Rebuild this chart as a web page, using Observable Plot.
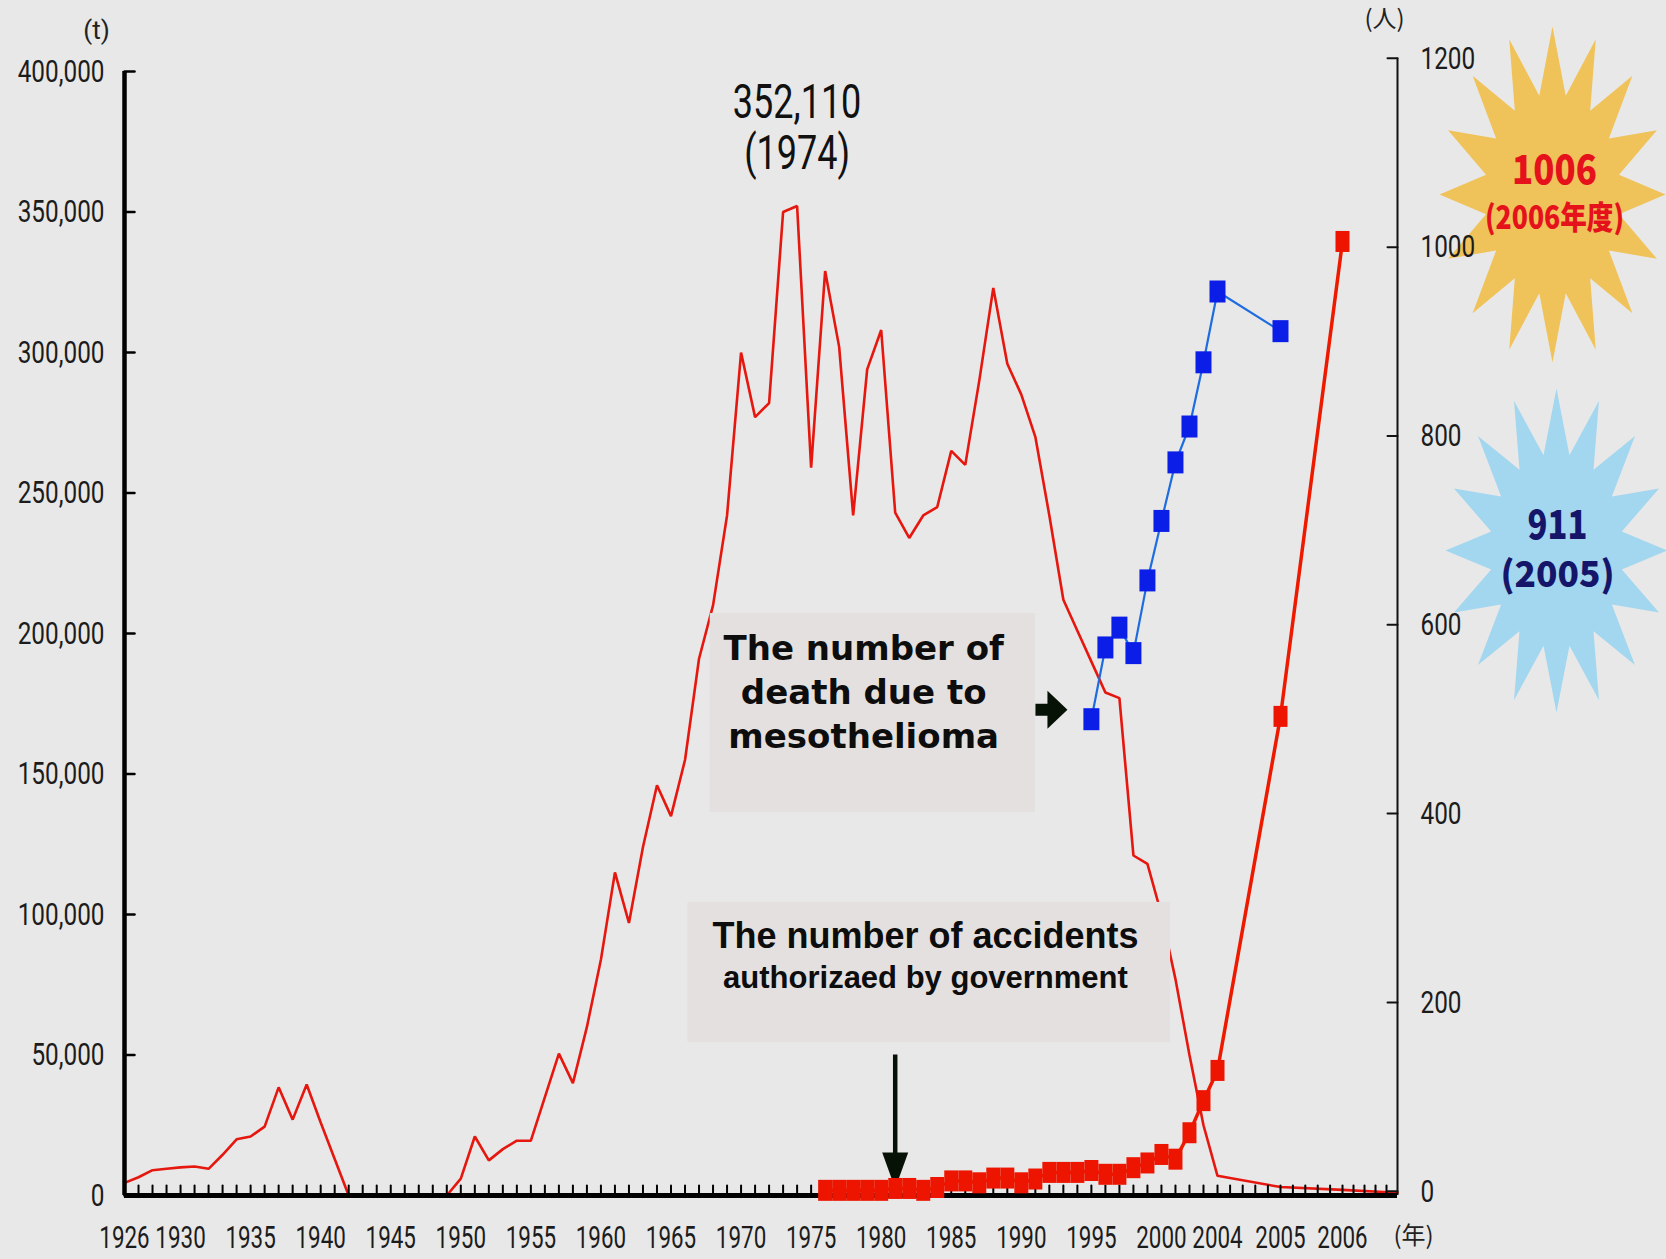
<!DOCTYPE html>
<html>
<head>
<meta charset="utf-8">
<script src="https://cdn.jsdelivr.net/npm/d3@7"></script>
<script src="https://cdn.jsdelivr.net/npm/@observablehq/plot@0.6"></script>
<style>
  html, body { margin: 0; padding: 0; background: #e8e8e8; }
  #chart svg { display: block; }
</style>
</head>
<body>
<div id="chart"></div>
<script>
// ---------------- data ----------------
const importYears = [1926,1927,1928,1929,1930,1931,1932,1933,1934,1935,1936,1937,1938,1939,1940,1941,1942,1943,1944,1945,1946,1947,1948,1949,1950,1951,1952,1953,1954,1955,1956,1957,1958,1959,1960,1961,1962,1963,1964,1965,1966,1967,1968,1969,1970,1971,1972,1973,1974,1975,1976,1977,1978,1979,1980,1981,1982,1983,1984,1985,1986,1987,1988,1989,1990,1991,1992,1993,1994,1995,1996,1997,1998,1999,2000,2001,2002,2003,2004,2005,2006,2007];
const importTonnes = [4500,6500,9000,9500,10000,10300,9500,14500,20000,21000,24500,38500,27000,39500,26000,13000,0,0,0,0,0,0,0,0,6000,21000,12500,16500,19500,19500,35000,50500,40000,60000,84000,115000,97000,124000,146000,135000,155000,191000,210000,242000,300000,277000,282000,350000,352110,259000,329000,302000,242000,294000,308000,243000,234000,242000,245000,265000,260000,290000,323000,296000,285000,270000,242000,212000,201000,190000,179000,177000,121000,118000,100000,77000,50000,25000,7000,3000,2000,1000];

const accidentYears = [1976,1977,1978,1979,1980,1981,1982,1983,1984,1985,1986,1987,1988,1989,1990,1991,1992,1993,1994,1995,1996,1997,1998,1999,2000,2001,2002,2003,2004,2005,2006];
const accidentCounts = [1,1,1,1,1,3,3,1,4,11,11,9,14,14,9,13,20,20,20,22,18,18,25,30,39,34,62,96,128,503,1006];

const deathYears = [1995,1996,1997,1998,1999,2000,2001,2002,2003,2004,2005];
const deathCounts = [500,576,597,570,647,710,772,810,878,953,911];

const xLabelYears = [1926,1930,1935,1940,1945,1950,1955,1960,1965,1970,1975,1980,1985,1990,1995,2000,2004,2005,2006];
const leftTicks = [0,50000,100000,150000,200000,250000,300000,350000,400000];
const rightTicks = [0,200,400,600,800,1000,1200];
const yearTicks = d3.range(1926, 2005);
const lateTicks = d3.range(2004.2, 2007, 0.2);

const peakNote = {year: 1974, value: 352110, label: "352,110", sub: "(1974)"};
const noteBoxes = [
  {x1: 1967.8, x2: 1991.0, y1: 136300, y2: 207100},
  {x1: 1966.2, x2: 2000.65, y1: 54400, y2: 104300}
];
// --------------------------------------

// persons (right axis) -> tonnes (shared y scale)
const yT = d => 1500 + 336 * d;
const fromT = t => Math.round((t - 1500) / 336);

const importData = importYears.map((year, i) => ({year, t: importTonnes[i]}));
const accData = accidentYears.map((year, i) => ({year, n: accidentCounts[i]}));
const deathData = deathYears.map((year, i) => ({year, n: deathCounts[i]}));

const NUMF = "Roboto,'Liberation Sans',sans-serif";
const CJK = "'Noto Sans CJK JP','Noto Sans CJK SC',sans-serif";

const rectSym = (w, h) => ({draw(ctx) { ctx.rect(-w / 2, -h / 2, w, h); }});
const starSym = (n, rx, ry, k) => ({draw(ctx) {
  for (let i = 0; i < 2 * n; i++) {
    const a = Math.PI * i / n - Math.PI / 2;
    const f = i % 2 ? k : 1;
    const px = Math.cos(a) * rx * f, py = Math.sin(a) * ry * f;
    if (i) ctx.lineTo(px, py); else ctx.moveTo(px, py);
  }
  ctx.closePath();
}});
const downTri = {draw(ctx) { ctx.moveTo(-13, -18); ctx.lineTo(13, -18); ctx.lineTo(0, 18); ctx.closePath(); }};
const rightArrow = {draw(ctx) {
  ctx.moveTo(-16, -6); ctx.lineTo(-4, -6); ctx.lineTo(-4, -19); ctx.lineTo(16, 0);
  ctx.lineTo(-4, 19); ctx.lineTo(-4, 6); ctx.lineTo(-16, 6); ctx.closePath();
}};
const tickShape = {draw(ctx, l) { ctx.moveTo(0, 0); ctx.lineTo(0, -l); }};

const centered = {textAnchor: "middle", lineAnchor: "middle"};

const chart = Plot.plot({
  width: 1666,
  height: 1259,
  marginLeft: 124,
  marginRight: 269,
  marginTop: 71,
  marginBottom: 64,
  style: {background: "#e8e8e8", color: "#1c1c1c", overflow: "visible"},
  x: {type: "linear", domain: [1926, 2004, 2005, 2006, 2007], range: [124, 1217, 1280, 1342, 1397]},
  y: {domain: [0, 400000]},
  marks: [
    // stars
    Plot.dot([0], {frameAnchor: "top-right", dx: 155, dy: 123, r: 10, symbol: starSym(16, 113, 168, 0.6), fill: "#f0c35a"}),
    Plot.dot([0], {frameAnchor: "top-right", dx: 159, dy: 479, r: 10, symbol: starSym(16, 111, 162, 0.6), fill: "#a3d7ef"}),
    Plot.text(["1006"], {...centered, frameAnchor: "top-right", dx: 157, dy: 100, text: d => d, fontSize: 40, fontWeight: 900, fontFamily: CJK, fill: "#e5121c"}),
    Plot.text(["(2006年度)"], {...centered, frameAnchor: "top-right", dx: 157, dy: 147, text: d => d, fontSize: 32, fontWeight: 900, fontFamily: CJK, fill: "#e5121c"}),
    Plot.text(["911"], {...centered, frameAnchor: "top-right", dx: 160, dy: 455, text: d => d, fontSize: 40, fontWeight: 900, fontFamily: CJK, fill: "#15166a"}),
    Plot.text(["(2005)"], {...centered, frameAnchor: "top-right", dx: 160, dy: 504, text: d => d, fontSize: 36, fontWeight: 900, fontFamily: CJK, fill: "#15166a"}),

    // asbestos imports
    Plot.line(importData, {x: "year", y: "t", stroke: "#e6170e", strokeWidth: 2.6, strokeLinejoin: "miter"}),

    // annotation boxes (drawn over the import line)
    Plot.rect(noteBoxes, {x1: "x1", x2: "x2", y1: "y1", y2: "y2", fill: "#e4e0e0"}),
    Plot.text(["The number of\ndeath due to\nmesothelioma"], {x: 1978.75, y: 180000, text: d => d, lineHeight: 1.29, fontSize: 34, fontWeight: "bold", fontFamily: "'DejaVu Sans',Verdana,sans-serif", fill: "#0d0d0d"}),
    Plot.text(["The number of accidents"], {x: 1983.16, y: 88256, text: d => d, lineAnchor: "bottom", fontSize: 36, fontWeight: "bold", fontFamily: "'Liberation Sans',Arial,sans-serif", fill: "#0d0d0d"}),
    Plot.text(["authorizaed by government"], {x: 1983.16, y: 74021, text: d => d, lineAnchor: "bottom", fontSize: 31, fontWeight: "bold", fontFamily: "'Liberation Sans',Arial,sans-serif", fill: "#0d0d0d"}),

    // axes lines
    Plot.ruleY([0], {x1: 1926, x2: 2007, stroke: "#000", strokeWidth: 5}),
    Plot.ruleX([1926], {y1: 0, y2: 400000, stroke: "#000", strokeWidth: 4.5}),
    Plot.ruleX([2007], {y1: 0, y2: yT(1200), stroke: "#111", strokeWidth: 2}),
    Plot.vector(yearTicks.concat(lateTicks), {x: d => d, frameAnchor: "bottom", length: 10, anchor: "start", shape: tickShape, stroke: "#000", strokeWidth: 2}),
    Plot.vector(leftTicks, {y: d => d, frameAnchor: "left", rotate: 90, length: 10, anchor: "start", shape: tickShape, stroke: "#000", strokeWidth: 2.5}),
    Plot.vector(rightTicks, {y: d => yT(d), frameAnchor: "right", rotate: -90, length: 10, anchor: "start", shape: tickShape, stroke: "#111", strokeWidth: 2}),
    Plot.axisY({ticks: leftTicks, anchor: "left", tickSize: 0, tickPadding: 20, tickFormat: d3.format(","), fontSize: 32, fontFamily: NUMF, label: null}),
    Plot.axisY({ticks: rightTicks.map(yT), anchor: "right", tickSize: 0, tickPadding: 23, tickFormat: t => String(fromT(t)), fontSize: 32, fontFamily: NUMF, label: null}),
    Plot.axisX({ticks: xLabelYears, anchor: "bottom", tickSize: 0, tickPadding: 30, tickFormat: d => String(d), fontSize: 32, fontFamily: NUMF, label: null}),

    // unit labels
    Plot.text(["(t)"], {...centered, frameAnchor: "top-left", dx: -28, dy: -41, text: d => d, fontSize: 26, fontFamily: NUMF, fill: "#222"}),
    Plot.text(["(人)"], {...centered, frameAnchor: "top-right", dx: -13, dy: -52, text: d => d, fontSize: 24, fontFamily: CJK, fill: "#222"}),
    Plot.text(["(年)"], {...centered, frameAnchor: "bottom-right", dx: 16, dy: 41, text: d => d, fontSize: 24, fontFamily: CJK, fill: "#222"}),

    // peak label
    Plot.text([peakNote], {x: "year", y: "value", text: "label", dy: -103, fontSize: 48, fontFamily: NUMF, fill: "#111"}),
    Plot.text([peakNote], {x: "year", y: "value", text: "sub", dy: -52, fontSize: 48, fontFamily: NUMF, fill: "#111"}),

    // arrows
    Plot.ruleX([1981], {y1: 50000, y2: 12000, stroke: "#061206", strokeWidth: 4.5}),
    Plot.dot([1981], {x: d => d, y: 8900, r: 10, symbol: downTri, fill: "#061206"}),
    Plot.dot([1992.15], {x: d => d, y: yT(510), r: 10, symbol: rightArrow, fill: "#061206"}),

    // accidents authorized (red squares)
    Plot.line(accData, {x: "year", y: d => yT(d.n), stroke: "#ee1a00", strokeWidth: 3.5}),
    Plot.dot(accData, {x: "year", y: d => yT(d.n), r: 6, symbol: rectSym(14, 21), fill: "#ee1500"}),

    // mesothelioma deaths (blue squares)
    Plot.line(deathData, {x: "year", y: d => yT(d.n), stroke: "#1d6de0", strokeWidth: 2.2}),
    Plot.dot(deathData, {x: "year", y: d => yT(d.n), r: 6, symbol: rectSym(16, 22), fill: "#0a1ee8"})
  ]
});

document.getElementById("chart").append(chart);

// horizontally condense the narrow lettering of the original
function squeezeEl(t, k) {
  const w = t.getComputedTextLength();
  if (w > 0) {
    t.setAttribute("textLength", (w * k).toFixed(1));
    t.setAttribute("lengthAdjust", "spacingAndGlyphs");
  }
}
chart.querySelectorAll('g[aria-label="y-axis tick label"] text').forEach(t => squeezeEl(t, 0.76));
chart.querySelectorAll('g[aria-label="x-axis tick label"] text').forEach(t => squeezeEl(t, 0.70));
const squeezeByText = {"352,110": 0.75, "(1974)": 0.75, "1006": 0.87, "(2006年度)": 0.83, "911": 0.82, "(2005)": 0.98};
chart.querySelectorAll("text").forEach(t => {
  const k = squeezeByText[t.textContent];
  if (k) squeezeEl(t, k);
});
</script>
</body>
</html>
